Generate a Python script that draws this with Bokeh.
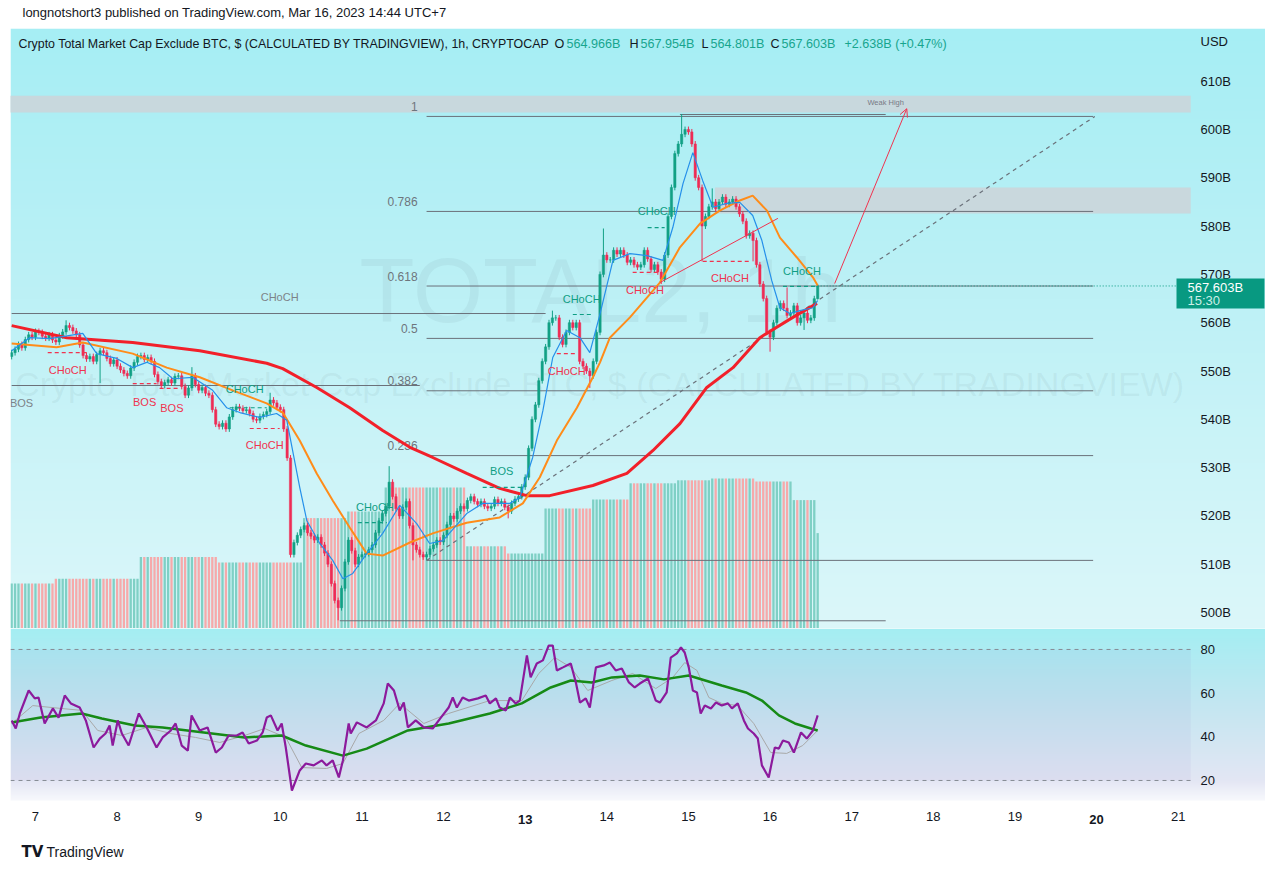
import numpy as np
from bokeh.plotting import figure
from bokeh.layouts import column
from bokeh.models import (Range1d, LinearAxis, FixedTicker, CustomJSTickFormatter,
                          Label, Arrow, OpenHead, BoxAnnotation)
from bokeh.core.properties import value
from bokeh.embed import file_html
from bokeh.resources import INLINE

FONT = "Liberation Sans"

# ---------------- data (hour index 0 = Mar 6 17:00, UTC+7) ----------------
close_vals = [
    553.8, 554.5, 555.5, 554.8, 556.5, 557.5, 557.0, 558.2, 558.0, 557.2,
    556.8, 557.5, 556.4, 556.0, 557.3, 558.1, 559.4, 559.0, 558.3, 557.5,
    555.4, 553.2, 552.5, 553.0, 552.0, 553.4, 554.2, 553.8, 552.6, 551.5,
    552.3, 551.0, 550.2, 549.5, 549.0, 550.6, 551.8, 553.0, 553.2, 552.4,
    552.8, 552.0, 549.3, 547.8, 547.0, 547.6, 548.2, 547.5, 548.9, 549.0,
    546.8, 545.0, 546.5, 549.0, 547.2, 546.0, 546.6, 545.4, 545.0, 542.0,
    539.0, 538.5, 539.2, 538.0, 540.5, 542.0, 542.6, 542.3, 541.8, 542.0,
    541.2, 540.0, 539.8, 540.6, 541.0, 541.6, 544.0, 543.4, 542.5, 542.0,
    538.0, 532.0, 512.0, 514.5, 516.0, 517.2, 518.0, 516.5, 515.8, 515.0,
    515.6, 514.0, 512.3, 510.0, 506.0, 502.5, 501.0, 505.0, 510.5, 515.0,
    512.8, 510.0, 511.5, 512.0, 512.2, 513.0, 514.0, 516.5, 519.0, 520.5,
    522.0, 527.0, 524.0, 521.5, 520.0, 521.8, 523.0, 518.0, 514.0, 513.0,
    512.0, 511.5, 512.0, 513.2, 514.0, 515.0, 514.6, 516.0, 518.2, 520.0,
    519.4, 521.0, 522.0, 521.5, 523.2, 524.0, 523.0, 522.4, 523.0, 522.0,
    521.6, 522.0, 523.4, 522.6, 523.0, 521.8, 521.0, 522.6, 523.5, 524.0,
    526.0, 528.0, 534.0, 540.0, 543.0, 548.0, 552.0, 555.0, 560.0, 561.0,
    561.0, 557.0, 555.5, 558.0, 560.0, 559.0, 560.0, 552.0, 551.0, 550.0,
    549.0, 552.0, 558.0, 570.0, 574.0, 573.0, 573.0, 575.0, 574.2, 575.0,
    574.0, 572.5, 573.0, 572.0, 571.5, 572.0, 575.0, 573.2, 571.0, 572.0,
    570.5, 569.0, 574.0, 582.0, 588.0, 595.0, 597.0, 599.0, 600.0, 599.5,
    597.0, 590.0, 588.0, 580.0, 582.0, 584.0, 585.0, 583.6, 585.0, 586.0,
    584.5, 585.0, 585.6, 584.0, 582.5, 581.0, 578.0, 578.5, 577.0, 572.0,
    568.0, 565.0, 558.0, 557.0, 560.0, 563.0, 564.0, 563.0, 561.5, 562.0,
    563.5, 560.0, 561.0, 562.0, 560.5, 561.0, 564.97, 567.603,
]
first_open = 553.0
wick = 0.6
high_over = {16: 560.5, 53: 550.8, 76: 545.5, 111: 530.3, 159: 562.5, 174: 579.5,
             197: 603.2, 206: 587.8, 228: 567.3, 237: 567.954}
low_over = {26: 547.5, 96: 498.4, 118: 510.8, 146: 519.5, 170: 546.5, 191: 568.0,
            203: 572.7, 218: 572.7, 223: 554.0, 233: 558.5, 237: 564.801}

# volume-style bars: level steps (start hour, level)
vol_seg_start = [0, 13, 38, 61, 86, 99, 110, 134, 146, 157, 171, 182, 196, 206, 219, 230, 237]
vol_seg_level = [7.5, 8.3, 11.9, 11.0, 18.4, 19.5, 23.5, 13.7, 12.5, 20.0, 21.5, 24.2, 24.7,
                 25.0, 24.5, 21.4, 15.9]

# moving averages on price (hour index, value)
red_i = [0, 16.2, 35.6, 55.3, 75, 79.7, 89.7, 99.4, 109.1, 117.1, 123.8, 133.8, 143.5, 151.5,
         158.2, 170.9, 180.9, 188.5, 196.5, 204.4, 212.1, 220, 229.7, 236.8]
red_p = [559.4, 556.9, 555.9, 554.2, 551.6, 550.5, 546.6, 542.4, 537.7, 534.2, 532.1, 528.8,
         525.7, 524.2, 524.2, 526.3, 528.8, 533.5, 539.1, 546.6, 550.7, 556.9, 561.1, 564.0]
orange_i = [0, 13.2, 20.9, 35.6, 45.6, 55.3, 65, 75, 79.7, 84.7, 89.7, 94.4, 99.4, 104.4, 109.1,
            117.1, 123.8, 133.8, 143.5, 150.3, 155.3, 160.3, 166.2, 170.9, 173, 175.9, 181.8,
            190.6, 196.5, 202.4, 208.2, 214.1, 217.9, 222.1, 225.9, 230.9, 235.6, 237]
orange_p = [555.7, 554.9, 555.9, 553.6, 550.7, 548.7, 546.0, 543.3, 541.4, 535.6, 528.8, 523.2,
            517.6, 512.2, 511.8, 514.5, 516.4, 518.6, 519.7, 522.6, 528.0, 535.6, 542.4, 548.7,
            551.8, 556.9, 561.1, 568.3, 575.6, 580.5, 583.2, 585.3, 586.3, 583.2, 577.6, 573.5,
            569.4, 567.7]
blue_i = [0, 5.3, 11.2, 20.9, 25, 30.9, 35.6, 39.7, 43.5, 47.4, 53.2, 59.1, 63.2, 67.1, 72.9,
          77.9, 80.9, 84.7, 86.8, 90.6, 94.4, 97.4, 100.3, 104.4, 109.1, 114.1, 119.1, 122.9,
          126.8, 133.8, 138.5, 146.5, 149.4, 153.2, 156.2, 159.1, 163.2, 167.1, 170, 172.9,
          176.8, 181.8, 186.8, 191.5, 194.4, 197.4, 200.3, 203.2, 206.2, 210.3, 214.1, 217.9,
          220.6, 223.5, 225.9, 228.8, 231.8, 235.6, 237]
blue_p = [554.2, 556.9, 556.7, 557.8, 553.6, 552.6, 550.7, 551.8, 550.7, 548.4, 548.7, 546.0,
          542.4, 541.4, 540.4, 541.2, 539.8, 525.9, 519.0, 514.3, 510.8, 507.0, 508.1, 512.2,
          516.4, 522.2, 518.4, 514.3, 514.9, 520.5, 522.6, 522.6, 523.8, 532.1, 541.8, 552.8,
          558.4, 556.9, 553.8, 561.5, 572.9, 574.3, 573.9, 572.9, 579.7, 588.8, 595.2, 589.4,
          583.9, 584.7, 584.9, 582.2, 577.0, 568.7, 563.1, 561.9, 562.5, 563.1, 564.6]

# fibonacci retracement
fib_low, fib_high = 510.8, 602.7
fib_ratios = [1, 0.786, 0.618, 0.5, 0.382, 0.236, 0]
fib_labels = ["1", "0.786", "0.618", "0.5", "0.382", "0.236", ""]
fib_i0, fib_i1 = 122, 318

# zones (left hour, bottom, top); they run to the right edge of the chart area
zone_i0 = [-2, 206.8]
zone_bot = [603.5, 582.6]
zone_top = [607.0, 588.0]

# plain gray levels
level_i0 = [0, 0, 96.5, 196.5]
level_i1 = [157, 120, 257, 257]
level_p = [561.9, 547.0, 498.3, 603.1]

# structure (dashed) lines
struct_i0 = [10.6, 35.6, 43.5, 64.1, 70, 101.8, 138.5, 165, 160.3, 187, 182.6, 203.2, 226.8]
struct_i1 = [22.9, 42.6, 49.4, 75, 78.8, 110.3, 150.3, 170.9, 166.2, 192, 190.6, 217.6, 237]
struct_p = [553.8, 547.4, 546.4, 542.4, 538.1, 518.6, 525.9, 561.7, 553.6, 579.7, 570.4, 572.7, 567.5]
struct_kind = ["bear", "bear", "bear", "bull", "bear", "bull", "bull", "bull", "bear", "bull",
               "bear", "bear", "bull"]

smc_text = ["CHoCH", "BOS", "BOS", "CHoCH", "CHoCH", "CHoCH", "BOS", "CHoCH", "CHoCH", "CHoCH",
            "CHoCH", "CHoCH", "CHoCH", "CHoCH", "BOS"]
smc_i = [16.5, 39.1, 47.1, 68.5, 74.4, 106.8, 144.1, 167.6, 163.2, 189.7, 186.2, 211.2, 232.4,
         78.8, 2.9]
smc_p = [550.3, 543.5, 542.4, 546.2, 534.6, 521.9, 529.2, 565.0, 549.9, 583.2, 566.7, 569.2,
         570.8, 565.4, 543.3]
smc_kind = ["bear", "bear", "bear", "bull", "bear", "bull", "bull", "bull", "bear", "bull",
            "bear", "bear", "bull", "neutral", "neutral"]

trend_i = [190.6, 225.3]
trend_p = [568.3, 581.6]
arrow_i = [242, 263.2]
arrow_p = [568.1, 604.3]
diag_i = [122, 318.5]
diag_p = [510.8, 602.7]

# RSI pane
rsi_i = [0, 1.2, 2.4, 5, 6.8, 7.9, 9.7, 12.1, 13.8, 15.6, 17.4, 20, 21.8, 24.1, 25.9, 27.6, 28.8,
         29.7, 31.2, 32.4, 34.4, 37.4, 39.7, 42.6, 44.4, 46.8, 48.2, 50, 51.8, 52.9, 55.3, 57.6,
         60, 61.8, 63.8, 66.2, 67.9, 69.7, 72.1, 73.8, 75, 76.2, 78.2, 79.4, 80.6, 82.4, 84.7,
         86.5, 88.8, 91.2, 92.6, 94.4, 96.2, 97.4, 99.1, 99.7, 101.5, 104.4, 107.1, 109.4, 110.6,
         112.4, 114.1, 115.3, 116.5, 118.8, 121.2, 123.8, 126.2, 128.5, 129.7, 130.9, 132.6,
         134.4, 137.1, 139.4, 140.6, 142.4, 143.5, 145.3, 146.5, 148.2, 149.4, 151.5, 152.6,
         154.4, 156.2, 157.9, 159.1, 160.3, 162.1, 164.4, 165.9, 167.1, 168.8, 170, 171.8, 174.1,
         175.9, 177.6, 179.4, 181.5, 183.2, 184.7, 187.1, 189.4, 190.6, 192.6, 193.8, 195.6,
         196.8, 197.9, 199.1, 200.3, 201.5, 202.6, 203.8, 205.6, 207.1, 208.8, 210.6, 211.8,
         213.5, 215.3, 216.5, 218.2, 219.4, 220.6, 222.6, 224.4, 225.6, 226.8, 228.5, 230,
         232.1, 233.8, 235.6, 237]
rsi_v = [47.5, 43.8, 50.7, 61.2, 57.6, 58.0, 46.1, 53.0, 48.8, 58.9, 55.3, 53.4, 47.5, 35.1, 39.2,
         41.5, 45.2, 36.0, 47.5, 41.5, 36.0, 50.7, 44.3, 35.1, 39.7, 42.9, 46.1, 36.0, 33.7, 49.8,
         42.9, 44.3, 32.8, 35.1, 40.6, 40.6, 42.0, 36.9, 38.3, 42.0, 48.8, 49.8, 42.9, 46.1, 35.1,
         15.4, 24.6, 27.8, 26.9, 29.2, 26.9, 29.2, 21.4, 29.2, 46.1, 41.5, 46.6, 44.3, 47.5, 55.3,
         64.4, 61.2, 52.1, 55.7, 44.3, 47.5, 44.3, 43.8, 48.8, 53.4, 58.0, 53.4, 58.0, 56.6, 57.6,
         58.9, 55.3, 57.6, 53.4, 52.1, 58.0, 55.3, 56.6, 77.3, 67.2, 73.6, 75.0, 81.8, 81.8, 70.4,
         71.8, 73.6, 64.9, 55.7, 57.6, 53.4, 71.8, 72.7, 74.0, 70.4, 71.3, 64.9, 62.6, 64.4, 66.7,
         56.6, 55.7, 60.3, 76.3, 78.2, 80.9, 78.6, 71.8, 61.2, 60.3, 50.7, 54.3, 53.0, 55.7, 54.3,
         55.3, 53.0, 55.3, 47.5, 43.8, 41.5, 39.2, 26.9, 21.4, 35.1, 34.6, 38.3, 37.4, 32.8, 42.0,
         39.2, 42.9, 49.8]
rsi_ma_i = [0, 6.2, 14.4, 20.6, 25.3, 32.4, 39.7, 46.8, 54.1, 61.2, 68.5, 74.4, 80.6, 85.3, 92.6,
            97.4, 102.1, 109.4, 114.1, 121.2, 128.5, 140.6, 150, 155, 159.7, 164.4, 169.4, 176.5,
            182.6, 189.4, 194.4, 197.9, 201.5, 205, 208.8, 213.5, 218.2, 223.2, 227.9, 232.6, 237]
rsi_ma_v = [46.1, 54.3, 53.0, 52.1, 42.9, 40.6, 44.3, 41.5, 39.7, 37.4, 40.6, 43.8, 39.7, 25.9,
            25.5, 27.8, 41.5, 47.5, 55.3, 46.1, 50.7, 56.6, 56.6, 69.0, 76.3, 71.8, 61.2, 65.8,
            69.0, 62.1, 67.2, 74.0, 70.4, 58.0, 55.3, 54.3, 46.1, 32.8, 32.4, 36.0, 42.9]
rsi_slow_i = [0, 8.5, 20.6, 26.5, 36.2, 44.4, 56.5, 68.5, 79.4, 86.5, 97.4, 104.4, 116.5, 128.5,
              140.6, 150, 158.5, 164.4, 170.6, 176.5, 184.7, 191.8, 199.1, 208.8, 215.9, 220.6,
              225.6, 230.3, 235, 237]
rsi_slow_v = [46.6, 48.8, 50.7, 48.4, 45.2, 44.3, 42.0, 39.7, 40.6, 36.0, 31.4, 34.6, 42.9, 46.1,
              50.7, 55.3, 62.6, 65.8, 64.9, 67.2, 68.1, 66.3, 68.1, 63.5, 60.3, 56.6, 49.8, 46.1,
              43.8, 42.9]
rsi_bands = [80, 20]

price_ticks = [500, 510, 520, 530, 540, 550, 560, 570, 580, 590, 600, 610]
usd_tick = 618.2
rsi_ticks = [20, 40, 60, 80]
day_ticks = [7, 8, 9, 10, 11, 12, 13, 14, 15, 16, 17, 18, 19, 20, 21]
bold_days = [13, 20]
last_price = 567.603

# ---------------- layout constants ----------------
T0 = 6 + 17 / 24.0          # first candle (Mar 6 17:00)
X_START, X_END = 6.694, 22.07
CHART_END = 21.154          # right edge of the drawing area (price scale begins)
P_LO, P_HI = 496.7, 620.9
R_LO, R_HI, R_BG_LO = -5.2, 89.6, 10.8


def day(i):
    return T0 + np.asarray(i, dtype=float) / 24.0


def gradient_img(stops, n=300):
    ts = np.array([s[0] for s in stops])
    cols = np.array([[int(c[1 + 2 * k:3 + 2 * k], 16) for k in range(3)] for _, c in stops], float)
    t = (np.arange(n) + 0.5) / n
    img = np.empty((n, 1), dtype=np.uint32)
    view = img.view(dtype=np.uint8).reshape((n, 1, 4))
    for k in range(3):
        view[:, 0, k] = np.interp(t, ts, cols[:, k]).astype(np.uint8)
    view[:, 0, 3] = 255
    return img[::-1].copy()


n = len(close_vals)
hours = np.arange(n)
xs = day(hours)
closes = np.array(close_vals)
opens = np.concatenate([[first_open], closes[:-1]])
highs = np.maximum(opens, closes) + wick
lows = np.minimum(opens, closes) - wick
for k, v in high_over.items():
    highs[k] = v
for k, v in low_over.items():
    lows[k] = v
up = closes >= opens
UP, DN = "#12a085", "#ee2c55"
ccol = [UP if u else DN for u in up]
vcol = ["#7fd0c5" if u else "#f6a9aa" for u in up]
vol_level = np.zeros(n)
for s, lv in zip(vol_seg_start, vol_seg_level):
    vol_level[s:] = lv

GRAY = "#787b86"
KC = {"bull": "#0f9e84", "bear": "#f0334f", "neutral": "#7d8388"}
INK = "#131722"


def plain(fig):
    fig.outline_line_color = None
    fig.background_fill_color = "#ffffff"
    fig.border_fill_color = "#ffffff"


def lab(fig, text, sx, sy, size="13px", color=INK, align="left", style="normal",
        level="annotation", alpha=1.0, font=FONT):
    fig.add_layout(Label(x=sx, y=sy, x_units="screen", y_units="screen", text=text,
                         text_font=font, text_font_size=size, text_color=color,
                         text_align=align, text_baseline="middle", text_font_style=style,
                         text_alpha=alpha, level=level))


def style_axis(ax, standoff):
    ax.axis_line_color = None
    ax.major_tick_line_color = None
    ax.minor_tick_line_color = None
    ax.major_tick_out = 0
    ax.major_label_text_font = FONT
    ax.major_label_text_font_size = "13px"
    ax.major_label_text_color = INK
    ax.major_label_standoff = standoff


# ---------------- header ----------------
hdr = figure(width=1265, height=28, x_range=Range1d(0, 1265), y_range=Range1d(0, 28),
             x_axis_type=None, y_axis_type=None, output_backend="svg", toolbar_location=None,
             min_border=0)
plain(hdr)
lab(hdr, "longnotshort3 published on TradingView.com, Mar 16, 2023 14:44 UTC+7", 12, 16)

# ---------------- price pane ----------------
xr = Range1d(X_START, X_END)
p = figure(width=1265, height=600, x_range=xr, y_range=Range1d(P_LO, P_HI),
           x_axis_type=None, y_axis_type=None, output_backend="svg", toolbar_location=None,
           min_border_left=10, min_border_right=0, min_border_top=0, min_border_bottom=0)
plain(p)
p.extra_y_ranges = {"vol": Range1d(0, 100)}
p.image_rgba(image=[gradient_img([(0, "#a6eef4"), (0.45, "#bdf1f6"), (1, "#dcf7fa")])],
             x=X_START, y=P_LO, dw=X_END - X_START, dh=P_HI - P_LO, level="image")

ay = LinearAxis(ticker=FixedTicker(ticks=price_ticks + [usd_tick]),
                formatter=CustomJSTickFormatter(
                    code="return tick > 615 ? 'USD' : tick.toFixed(0) + 'B';"))
style_axis(ay, -65)
p.add_layout(ay, "right")

# watermark
lab(p, "TOTAL2, 1h", 590, 338, size="90px", color="#6f8a90", align="center", level="underlay", alpha=0.1)
lab(p, "Crypto Total Market Cap Exclude BTC, $ (CALCULATED BY TRADINGVIEW)", 590, 245,
    size="34px", color="#6f8a90", align="center", level="underlay", alpha=0.1)

# legend line
TEAL = "#17a58e"
lab(p, "Crypto Total Market Cap Exclude BTC, $ (CALCULATED BY TRADINGVIEW), 1h, CRYPTOCAP", 8, 585,
    size="12.4px")
for t, ax, col in [("O", 554, INK), ("564.966B", 566, TEAL), ("H", 629, INK),
                   ("567.954B", 640, TEAL), ("L", 701, INK), ("564.801B", 710, TEAL),
                   ("C", 770, INK), ("567.603B", 781, TEAL), ("+2.638B (+0.47%)", 844, TEAL)]:
    lab(p, t, ax - 10, 585, size="12.6px", color=col)

# zones
p.quad(left=day(zone_i0), right=[CHART_END] * len(zone_i0), bottom=zone_bot, top=zone_top,
       fill_color="#cdd3d8", fill_alpha=0.85, line_color=None)
p.text(x=[day(257)], y=[605.6], text=["Weak High"], text_font=value(FONT), text_font_size="7.5px",
       text_color=GRAY, text_align="center", text_baseline="middle")

# volume bars
p.vbar(x=xs, width=0.68 / 24, top=vol_level, bottom=0, y_range_name="vol",
       fill_color=vcol, line_color=None)

# fib levels
fib_lv = [fib_low + r * (fib_high - fib_low) for r in fib_ratios]
p.segment(x0=[day(fib_i0)] * len(fib_lv), x1=[day(fib_i1)] * len(fib_lv), y0=fib_lv, y1=fib_lv,
          line_color="#6b717a", line_width=1)
p.text(x=[day(fib_i0)] * len(fib_lv), y=fib_lv, text=fib_labels, x_offset=-9, y_offset=-10,
       text_font=value(FONT), text_font_size="12px", text_color="#6e757c",
       text_align="right", text_baseline="middle")

# plain levels
p.segment(x0=day(level_i0), x1=day(level_i1), y0=level_p, y1=level_p,
          line_color="#6b717a", line_width=1)

# diagonal dashed
p.line(x=day(diag_i), y=diag_p, line_color="#6b717a", line_width=1.2, line_dash="4 4")

# candles
p.segment(x0=xs, x1=xs, y0=lows, y1=highs, line_color=ccol, line_width=1)
p.vbar(x=xs, width=0.68 / 24, top=np.maximum(opens, closes), bottom=np.minimum(opens, closes),
       fill_color=ccol, line_color=ccol, line_width=0.5)

# moving averages
p.line(x=day(red_i), y=red_p, line_color="#f2202a", line_width=3)
p.line(x=day(orange_i), y=orange_p, line_color="#ff8c19", line_width=2)
p.line(x=day(blue_i), y=blue_p, line_color="#2590ea", line_width=1.2)

# structure lines + labels
p.segment(x0=day(struct_i0), x1=day(struct_i1), y0=struct_p, y1=struct_p,
          line_color=[KC[k] for k in struct_kind], line_width=1.2, line_dash="4 3")
p.text(x=day(smc_i), y=smc_p, text=smc_text, text_font=value(FONT), text_font_size="11px",
       text_color=[KC[k] for k in smc_kind], text_align="center", text_baseline="middle")

# trend line + projection arrow
p.line(x=day(trend_i), y=trend_p, line_color="#f0334f", line_width=1)
p.add_layout(Arrow(end=OpenHead(size=8, line_color="#f0334f", line_width=1),
                   x_start=float(day(arrow_i[0])), y_start=arrow_p[0],
                   x_end=float(day(arrow_i[1])), y_end=arrow_p[1],
                   line_color="#f0334f", line_width=1))

# last price line + tag
p.segment(x0=[float(day(n - 1))], x1=[CHART_END], y0=[last_price], y1=[last_price],
          line_color="#089981", line_width=1, line_dash="1 2")
p.add_layout(BoxAnnotation(left=1166, right=1254, top=350, bottom=320,
                           left_units="screen", right_units="screen",
                           top_units="screen", bottom_units="screen",
                           fill_color="#089981", fill_alpha=1, line_color=None, level="overlay"))
lab(p, "567.603B", 1177, 341, size="13px", color="#ffffff", level="overlay")
lab(p, "15:30", 1177, 328, size="13px", color="#cdeee7", level="overlay")

# ---------------- RSI pane ----------------
r = figure(width=1265, height=207, x_range=xr, y_range=Range1d(R_LO, R_HI),
           x_axis_type=None, y_axis_type=None, output_backend="svg", toolbar_location=None,
           min_border_left=10, min_border_right=0, min_border_top=0, min_border_bottom=0)
plain(r)
r.image_rgba(image=[gradient_img([(0, "#a4eef3"), (0.42, "#c2e7f1"), (0.88, "#e3e6f4"),
                                  (1, "#f8f9fd")])],
             x=X_START, y=R_BG_LO, dw=X_END - X_START, dh=R_HI - R_BG_LO, level="image")
r.quad(left=[X_START], right=[CHART_END], bottom=[rsi_bands[1]], top=[rsi_bands[0]],
       fill_color="#7e57c2", fill_alpha=0.06, line_color=None)
r.segment(x0=[X_START] * 2, x1=[CHART_END] * 2, y0=rsi_bands, y1=rsi_bands,
          line_color="#868b94", line_width=1, line_dash="4 4")

ry = LinearAxis(ticker=FixedTicker(ticks=rsi_ticks))
style_axis(ry, -65)
r.add_layout(ry, "right")

rx = LinearAxis(ticker=FixedTicker(ticks=day_ticks),
                formatter=CustomJSTickFormatter(
                    code="return (tick == 13 || tick == 20) ? '' : tick.toFixed(0);"))
style_axis(rx, -24)
r.add_layout(rx, "below")
for d in bold_days:
    r.add_layout(Label(x=d, y=16, x_units="data", y_units="screen", text=str(d),
                       text_font=FONT, text_font_size="13px", text_font_style="bold",
                       text_color=INK, text_align="center", text_baseline="middle"))

r.line(x=day(rsi_ma_i), y=rsi_ma_v, line_color="#a8a8a8", line_width=1)
r.line(x=day(rsi_slow_i), y=rsi_slow_v, line_color="#168a16", line_width=2.5)
r.line(x=day(rsi_i), y=rsi_v, line_color="#8c1a9c", line_width=2.2)

# ---------------- footer ----------------
ftr = figure(width=1265, height=34, x_range=Range1d(0, 1265), y_range=Range1d(0, 34),
             x_axis_type=None, y_axis_type=None, output_backend="svg", toolbar_location=None,
             min_border=0)
plain(ftr)
lab(ftr, "TV", 11, 18, size="15px", style="bold", font="DejaVu Sans")
lab(ftr, "TradingView", 36, 18, size="14px")

layout = column(hdr, p, r, ftr, spacing=0)
open("out.html", "w").write(file_html(layout, INLINE))
